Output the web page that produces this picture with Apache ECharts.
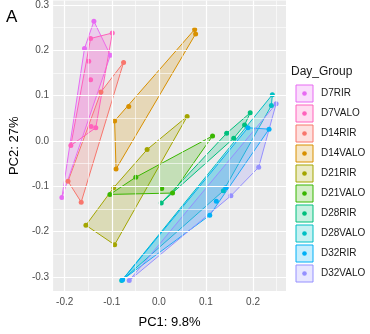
<!DOCTYPE html>
<html>
<head>
<meta charset="utf-8">
<script src="https://cdn.jsdelivr.net/npm/echarts@6/dist/echarts.min.js"></script>
<style>
  html, body { margin: 0; padding: 0; background: #ffffff; }
  #chart { width: 370px; height: 334px; }
</style>
</head>
<body>
<div id="chart"></div>
<script>
// PCA scores (PC1, PC2) for each day/treatment group
const groupNames = ['D7RIR', 'D7VALO', 'D14RIR', 'D14VALO', 'D21RIR', 'D21VALO', 'D28RIR', 'D28VALO', 'D32RIR', 'D32VALO'];
const groupColors = ['#E76BF3', '#FF62BC', '#F8766D', '#D89000', '#A3A500', '#39B600', '#00BF7D', '#00BFC4', '#00B0F6', '#9590FF'];

const d7RIR   = [[-0.138, 0.264], [-0.103, 0.189], [-0.158, 0.204], [-0.206, -0.125]];
const d7VALO  = [[-0.145, 0.226], [-0.099, 0.238], [-0.149, 0.176], [-0.145, 0.135], [-0.144, 0.032], [-0.134, 0.029], [-0.187, -0.010]];
const d14RIR  = [[-0.075, 0.173], [-0.123, 0.108], [-0.193, -0.089], [-0.165, -0.135]];
const d14VALO = [[0.076, 0.246], [0.078, 0.236], [-0.064, 0.076], [-0.094, 0.044], [-0.091, -0.062]];
const d21RIR  = [[0.060, 0.054], [-0.025, -0.019], [-0.096, -0.103], [-0.155, -0.186], [-0.094, -0.229]];
const d21VALO = [[0.114, 0.011], [-0.049, -0.080], [-0.104, -0.118], [0.006, -0.105], [0.029, -0.115]];
const d28RIR  = [[0.194, 0.062], [0.182, 0.035], [0.144, 0.017], [0.159, 0.006], [0.005, -0.137]];
const d28VALO = [[0.241, 0.102], [0.239, 0.078], [0.137, -0.110], [-0.079, -0.308]];
const d32RIR  = [[0.189, 0.029], [0.234, 0.026], [0.142, -0.103], [0.122, -0.133], [0.108, -0.164], [-0.077, -0.306]];
const d32VALO = [[0.249, 0.082], [0.212, -0.058], [0.153, -0.121], [-0.063, -0.308]];

const groupData = [d7RIR, d7VALO, d14RIR, d14VALO, d21RIR, d21VALO, d28RIR, d28VALO, d32RIR, d32VALO];

// Axis ticks and grid lines
const xTicks = [-0.2, -0.1, 0.0, 0.1, 0.2];
const yTicks = [-0.3, -0.2, -0.1, 0.0, 0.1, 0.2, 0.3];
const xMinor = [-0.15, -0.05, 0.05, 0.15, 0.25];
const yMinor = [-0.25, -0.15, -0.05, 0.05, 0.15, 0.25];

// Panel limits (data range with padding)
const xRange = [-0.2246, 0.270];
const yRange = [-0.331, 0.3095];

// Monotone chain convex hull
function convexHull(pts) {
  const p = pts.slice().sort((a, b) => a[0] - b[0] || a[1] - b[1]);
  if (p.length < 3) return p;
  const cross = (o, a, b) => (a[0] - o[0]) * (b[1] - o[1]) - (a[1] - o[1]) * (b[0] - o[0]);
  const lower = [];
  for (const q of p) {
    while (lower.length >= 2 && cross(lower[lower.length - 2], lower[lower.length - 1], q) <= 0) lower.pop();
    lower.push(q);
  }
  const upper = [];
  for (let i = p.length - 1; i >= 0; i--) {
    const q = p[i];
    while (upper.length >= 2 && cross(upper[upper.length - 2], upper[upper.length - 1], q) <= 0) upper.pop();
    upper.push(q);
  }
  upper.pop(); lower.pop();
  return lower.concat(upper);
}

function hexToRgba(hex, a) {
  const n = parseInt(hex.slice(1), 16);
  return 'rgba(' + ((n >> 16) & 255) + ',' + ((n >> 8) & 255) + ',' + (n & 255) + ',' + a + ')';
}

const FONT = 'Liberation Sans, Arial, sans-serif';
const chart = echarts.init(document.getElementById('chart'), null, { renderer: 'canvas' });

// Polygons are stacked in factor (alphabetical) order
const drawOrder = [2, 3, 4, 5, 6, 7, 8, 9, 0, 1];

const series = [];

// grid lines drawn through the axes
series.push({
  type: 'line', data: [], silent: true, z: 1,
  markLine: {
    silent: true, symbol: 'none', label: { show: false }, animation: false,
    lineStyle: { color: '#ffffff', width: 0.6, type: 'solid' },
    data: xMinor.map(v => ({ xAxis: v })).concat(yMinor.map(v => ({ yAxis: v })))
  }
});
series.push({
  type: 'line', data: [], silent: true, z: 1,
  markLine: {
    silent: true, symbol: 'none', label: { show: false }, animation: false,
    lineStyle: { color: '#ffffff', width: 1.2, type: 'solid' },
    data: xTicks.map(v => ({ xAxis: v })).concat(yTicks.map(v => ({ yAxis: v })))
  }
});

drawOrder.forEach(function (gi) {
  const hull = convexHull(groupData[gi]);
  const col = groupColors[gi];
  series.push({
    type: 'custom',
    name: groupNames[gi] + ' hull',
    z: 2,
    silent: true,
    data: hull,
    renderItem: function (params, api) {
      if (params.dataIndex !== 0) return null;
      const pts = hull.map(p => api.coord(p));
      return {
        type: 'polygon',
        shape: { points: pts },
        style: { fill: hexToRgba(col, 0.22), stroke: col, lineWidth: 1 }
      };
    }
  });
});

drawOrder.forEach(function (gi) {
  series.push({
    type: 'scatter',
    name: groupNames[gi],
    z: 3,
    symbol: 'circle',
    symbolSize: 5,
    itemStyle: { color: groupColors[gi], opacity: 1 },
    data: groupData[gi]
  });
});

// Legend: boxed keys with a dot, group labels alongside
const legendItems = [{
  type: 'text', left: 291, top: 66,
  style: { text: 'Day_Group', font: '12px ' + FONT, fill: '#1a1a1a' }
}];
groupNames.forEach(function (name, i) {
  const cy = 93.5 + i * 20;
  legendItems.push({
    type: 'rect', shape: { x: 296, y: cy - 8.5, width: 17, height: 17 },
    style: { fill: hexToRgba(groupColors[i], 0.22), stroke: groupColors[i], lineWidth: 1 }
  });
  legendItems.push({
    type: 'circle', shape: { cx: 304.5, cy: cy, r: 2.3 },
    style: { fill: groupColors[i] }
  });
  legendItems.push({
    type: 'text', x: 321, y: cy,
    style: { text: name, font: '10px ' + FONT, fill: '#1a1a1a', textVerticalAlign: 'middle', verticalAlign: 'middle' }
  });
});
legendItems.push({
  type: 'text', left: 6, top: 9,
  style: { text: 'A', font: '17px ' + FONT, fill: '#000000' }
});

const option = {
  animation: false,
  backgroundColor: '#ffffff',
  grid: { left: 47, right: 84, top: 0, bottom: 37, show: true, backgroundColor: '#EBEBEB', borderWidth: 0 },
  xAxis: {
    type: 'value', min: xRange[0], max: xRange[1],
    name: 'PC1: 9.8%', nameLocation: 'middle', nameGap: 25,
    nameTextStyle: { fontFamily: FONT, fontSize: 13, color: '#000000' },
    axisLine: { show: false },
    axisTick: { show: true, length: 3, customValues: xTicks, lineStyle: { color: '#333333', width: 1 } },
    axisLabel: { customValues: xTicks, margin: 6, fontFamily: FONT, fontSize: 10, color: '#4D4D4D',
      formatter: v => v.toFixed(1) },
    splitLine: { show: false }
  },
  yAxis: {
    type: 'value', min: yRange[0], max: yRange[1],
    name: 'PC2: 27%', nameLocation: 'middle', nameGap: 28, nameRotate: 90,
    nameTextStyle: { fontFamily: FONT, fontSize: 13, color: '#000000' },
    axisLine: { show: false },
    axisTick: { show: true, length: 3, customValues: yTicks, lineStyle: { color: '#333333', width: 1 } },
    axisLabel: { customValues: yTicks, margin: 4, fontFamily: FONT, fontSize: 10, color: '#4D4D4D',
      formatter: v => v.toFixed(1) },
    splitLine: { show: false }
  },
  graphic: legendItems,
  series: series
};
chart.setOption(option);
</script>
</body>
</html>
